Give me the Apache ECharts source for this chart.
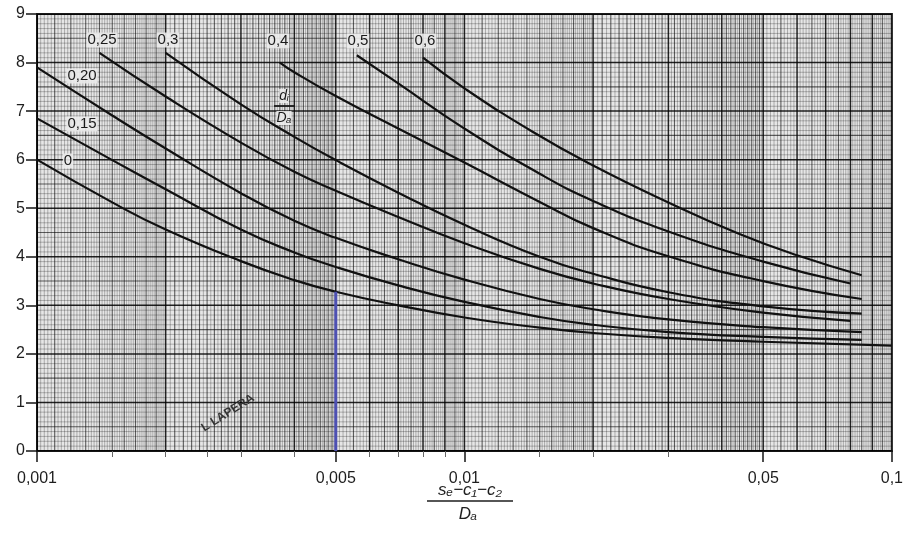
<!DOCTYPE html>
<html><head><meta charset="utf-8">
<script src="https://cdn.jsdelivr.net/npm/echarts@6/dist/echarts.min.js"></script>
<style>html,body{margin:0;padding:0;background:#fff}#c{width:906px;height:541px}</style>
</head><body><div id="c"></div>
<script>
// ---- data ----
const curveNames = ['0', '0,15', '0,20', '0,25', '0,3', '0,4', '0,5', '0,6'];

const c0x  = [0.001, 0.0015, 0.002, 0.003, 0.004, 0.005, 0.007, 0.01, 0.015, 0.02, 0.03, 0.05, 0.1];
const c0y  = [6.0, 5.12, 4.56, 3.91, 3.52, 3.28, 3.0, 2.75, 2.54, 2.43, 2.33, 2.25, 2.17];

const c15x = [0.001, 0.0015, 0.002, 0.003, 0.004, 0.005, 0.007, 0.01, 0.015, 0.02, 0.03, 0.05, 0.085];
const c15y = [6.85, 5.99, 5.39, 4.56, 4.09, 3.79, 3.41, 3.07, 2.76, 2.6, 2.45, 2.35, 2.29];

const c20x = [0.001, 0.0015, 0.002, 0.003, 0.004, 0.005, 0.007, 0.01, 0.015, 0.02, 0.03, 0.05, 0.085];
const c20y = [7.9, 6.91, 6.23, 5.31, 4.74, 4.39, 3.95, 3.53, 3.13, 2.92, 2.71, 2.55, 2.45];

const c25x = [0.0014, 0.002, 0.003, 0.004, 0.005, 0.007, 0.01, 0.015, 0.02, 0.03, 0.05, 0.08];
const c25y = [8.2, 7.3, 6.35, 5.75, 5.36, 4.82, 4.28, 3.75, 3.45, 3.13, 2.85, 2.68];

const c30x = [0.002, 0.003, 0.004, 0.005, 0.007, 0.01, 0.015, 0.02, 0.03, 0.05, 0.085];
const c30y = [8.2, 7.14, 6.47, 5.99, 5.32, 4.66, 4.0, 3.65, 3.27, 2.98, 2.83];

const c40x = [0.0037, 0.004, 0.005, 0.007, 0.01, 0.015, 0.02, 0.03, 0.05, 0.085];
const c40y = [8.0, 7.8, 7.31, 6.64, 5.94, 5.13, 4.59, 4.01, 3.5, 3.13];

const c50x = [0.0056, 0.007, 0.01, 0.015, 0.02, 0.03, 0.05, 0.08];
const c50y = [8.15, 7.57, 6.64, 5.71, 5.15, 4.52, 3.9, 3.45];

const c60x = [0.008, 0.01, 0.0144, 0.02, 0.03, 0.044, 0.06, 0.085];
const c60y = [8.1, 7.47, 6.58, 5.88, 5.12, 4.47, 4.03, 3.62];

const blueX = [0.005, 0.005];
const blueY = [0, 3.28];

const xTickValues = [0.001, 0.005, 0.01, 0.05, 0.1];
const xTickLabels = ['0,001', '0,005', '0,01', '0,05', '0,1'];
const xMinorTickValues = [0.0015, 0.002, 0.0025, 0.003, 0.004, 0.006, 0.007, 0.008, 0.009, 0.015, 0.02, 0.03];
const yTickValues = [0, 1, 2, 3, 4, 5, 6, 7, 8, 9];

// ---- graph-paper rulings (decoration) ----
const paperV = [];
[0.001, 0.01].forEach(function (dec) {
  for (let i = 0; i < 50; i++) paperV.push([dec * (1 + i * 0.02), 0, i === 0 ? 2 : (i % 5 === 0 ? 1 : 0)]);
  for (let i = 0; i < 60; i++) paperV.push([dec * (2 + i * 0.05), 0, i % 20 === 0 ? 2 : (i % 2 === 0 ? 1 : 0)]);
  for (let i = 0; i < 50; i++) paperV.push([dec * (5 + i * 0.1), 0, i % 10 === 0 ? 2 : (i % 5 === 0 ? 1 : 0)]);
});
const paperH = [];
for (let k = 0; k <= 90; k++) paperH.push([0.01, k / 10, k % 10 === 0 ? 2 : (k % 5 === 0 ? 1 : 0)]);

const ruleStroke = ['rgba(0,0,0,0.32)', 'rgba(0,0,0,0.6)', 'rgba(0,0,0,0.85)'];
const ruleWidth = [0.8, 1.1, 1.5];

function zip(xs, ys) { return xs.map(function (x, i) { return [x, ys[i]]; }); }
const curves = [[c0x, c0y], [c15x, c15y], [c20x, c20y], [c25x, c25y], [c30x, c30y], [c40x, c40y], [c50x, c50y], [c60x, c60y]];

const chart = echarts.init(document.getElementById('c'), null, { renderer: 'canvas' });
const log10 = function (v) { return Math.log10(v); };
const FONT = '"Liberation Sans", Arial, sans-serif';

const series = [
  {
    type: 'custom', name: 'paperV', silent: true, z: 1, xAxisIndex: 0, yAxisIndex: 0,
    encode: { x: 0, y: 1 }, data: paperV, clip: true,
    renderItem: function (params, api) {
      const x = api.value(0), l = api.value(2);
      const p0 = api.coord([x, 0]), p1 = api.coord([x, 9]);
      return { type: 'line', shape: { x1: p0[0], y1: p0[1], x2: p1[0], y2: p1[1] },
        style: { stroke: ruleStroke[l], lineWidth: ruleWidth[l] } };
    }
  },
  {
    type: 'custom', name: 'paperH', silent: true, z: 1, xAxisIndex: 0, yAxisIndex: 0,
    encode: { x: 0, y: 1 }, data: paperH, clip: true,
    renderItem: function (params, api) {
      const y = api.value(1), l = api.value(2);
      const p0 = api.coord([0.001, y]), p1 = api.coord([0.1, y]);
      return { type: 'line', shape: { x1: p0[0], y1: p0[1], x2: p1[0], y2: p1[1] },
        style: { stroke: ruleStroke[l], lineWidth: ruleWidth[l] } };
    }
  }
];
curves.forEach(function (c, i) {
  series.push({
    type: 'line', name: curveNames[i], xAxisIndex: 0, yAxisIndex: 0, z: 5,
    data: zip(c[0], c[1]), smooth: 0.5, symbol: 'none',
    lineStyle: { color: '#111', width: 2.2 }
  });
});
series.push({
  type: 'line', name: 'blue', xAxisIndex: 0, yAxisIndex: 0, z: 6,
  data: zip(blueX, blueY), symbol: 'none', lineStyle: { color: '#4d50b2', width: 3 }
});

function lbl(text, x, y) {
  return { type: 'text', x: x, y: y, z: 10,
    style: { text: text, font: '15px ' + FONT, fill: '#1a1a1a', align: 'center', verticalAlign: 'middle',
      backgroundColor: 'rgba(236,236,236,0.9)', padding: [0, 1] } };
}
const ITAL = 'italic 17px ' + FONT + ', "DejaVu Sans"';

const option = {
  animation: false,
  backgroundColor: '#ffffff',
  grid: { left: 37, right: 13, top: 14, bottom: 90, show: true, backgroundColor: '#e6e6e6', borderColor: '#1a1a1a', borderWidth: 2 },
  xAxis: [
    { type: 'log', logBase: 10, min: 0.001, max: 0.1, position: 'bottom',
      axisLine: { show: true, lineStyle: { color: '#151515', width: 2 } },
      axisTick: { show: false }, axisLabel: { show: false }, splitLine: { show: false } },
    { type: 'value', min: -3, max: -1, position: 'bottom',
      axisLine: { show: false }, splitLine: { show: false },
      axisTick: { show: true, customValues: xTickValues.map(log10), length: 11, lineStyle: { color: '#151515', width: 1.5 } },
      axisLabel: { show: true, customValues: xTickValues.map(log10), margin: 20, fontSize: 16, fontFamily: FONT, color: '#1e1e1e',
        formatter: function (v) {
          for (let i = 0; i < xTickValues.length; i++) if (Math.abs(log10(xTickValues[i]) - v) < 1e-6) return xTickLabels[i];
          return '';
        } } },
    { type: 'value', min: -3, max: -1, position: 'bottom',
      axisLine: { show: false }, splitLine: { show: false }, axisLabel: { show: false },
      axisTick: { show: true, customValues: xMinorTickValues.map(log10), length: 6, lineStyle: { color: '#666', width: 1 } } }
  ],
  yAxis: [{
    type: 'value', min: 0, max: 9, interval: 1,
    axisLine: { show: true, lineStyle: { color: '#151515', width: 2 } },
    axisTick: { show: true, length: 11, lineStyle: { color: '#151515', width: 1.5 } },
    axisLabel: { show: true, margin: 12, fontSize: 16, fontFamily: FONT, color: '#1e1e1e',
      customValues: yTickValues },
    splitLine: { show: false }
  }],
  series: series,
  graphic: [
    lbl('0,25', 102, 40), lbl('0,3', 168, 40), lbl('0,4', 278, 41), lbl('0,5', 358, 41), lbl('0,6', 425, 41),
    lbl('0,20', 82, 76), lbl('0,15', 82, 124), lbl('0', 68, 161),
    { type: 'text', x: 284, y: 96, z: 10, style: { text: 'dᵢ', font: 'italic 14px ' + FONT + ', "DejaVu Sans"', fill: '#1a1a1a', align: 'center', verticalAlign: 'middle', backgroundColor: 'rgba(236,236,236,0.9)' } },
    { type: 'line', z: 10, shape: { x1: 274, y1: 106, x2: 295, y2: 106 }, style: { stroke: '#1a1a1a', lineWidth: 1.8 } },
    { type: 'text', x: 284, y: 118, z: 10, style: { text: 'Dₐ', font: 'italic 14px ' + FONT + ', "DejaVu Sans"', fill: '#1a1a1a', align: 'center', verticalAlign: 'middle', backgroundColor: 'rgba(236,236,236,0.9)' } },
    { type: 'text', x: 470, y: 490, z: 10, style: { text: 'sₑ−c₁−c₂', font: ITAL, fill: '#1e1e1e', align: 'center', verticalAlign: 'middle' } },
    { type: 'line', z: 10, shape: { x1: 427, y1: 501, x2: 513, y2: 501 }, style: { stroke: '#1e1e1e', lineWidth: 1.4 } },
    { type: 'text', x: 468, y: 514, z: 10, style: { text: 'Dₐ', font: ITAL, fill: '#1e1e1e', align: 'center', verticalAlign: 'middle' } },
    { type: 'text', x: 228, y: 413, rotation: 0.56, z: 10, style: { text: 'L LAPERA', font: 'bold 12px ' + FONT, fill: '#333', align: 'center', verticalAlign: 'middle' } }
  ]
};
chart.setOption(option);
</script>
</body></html>
